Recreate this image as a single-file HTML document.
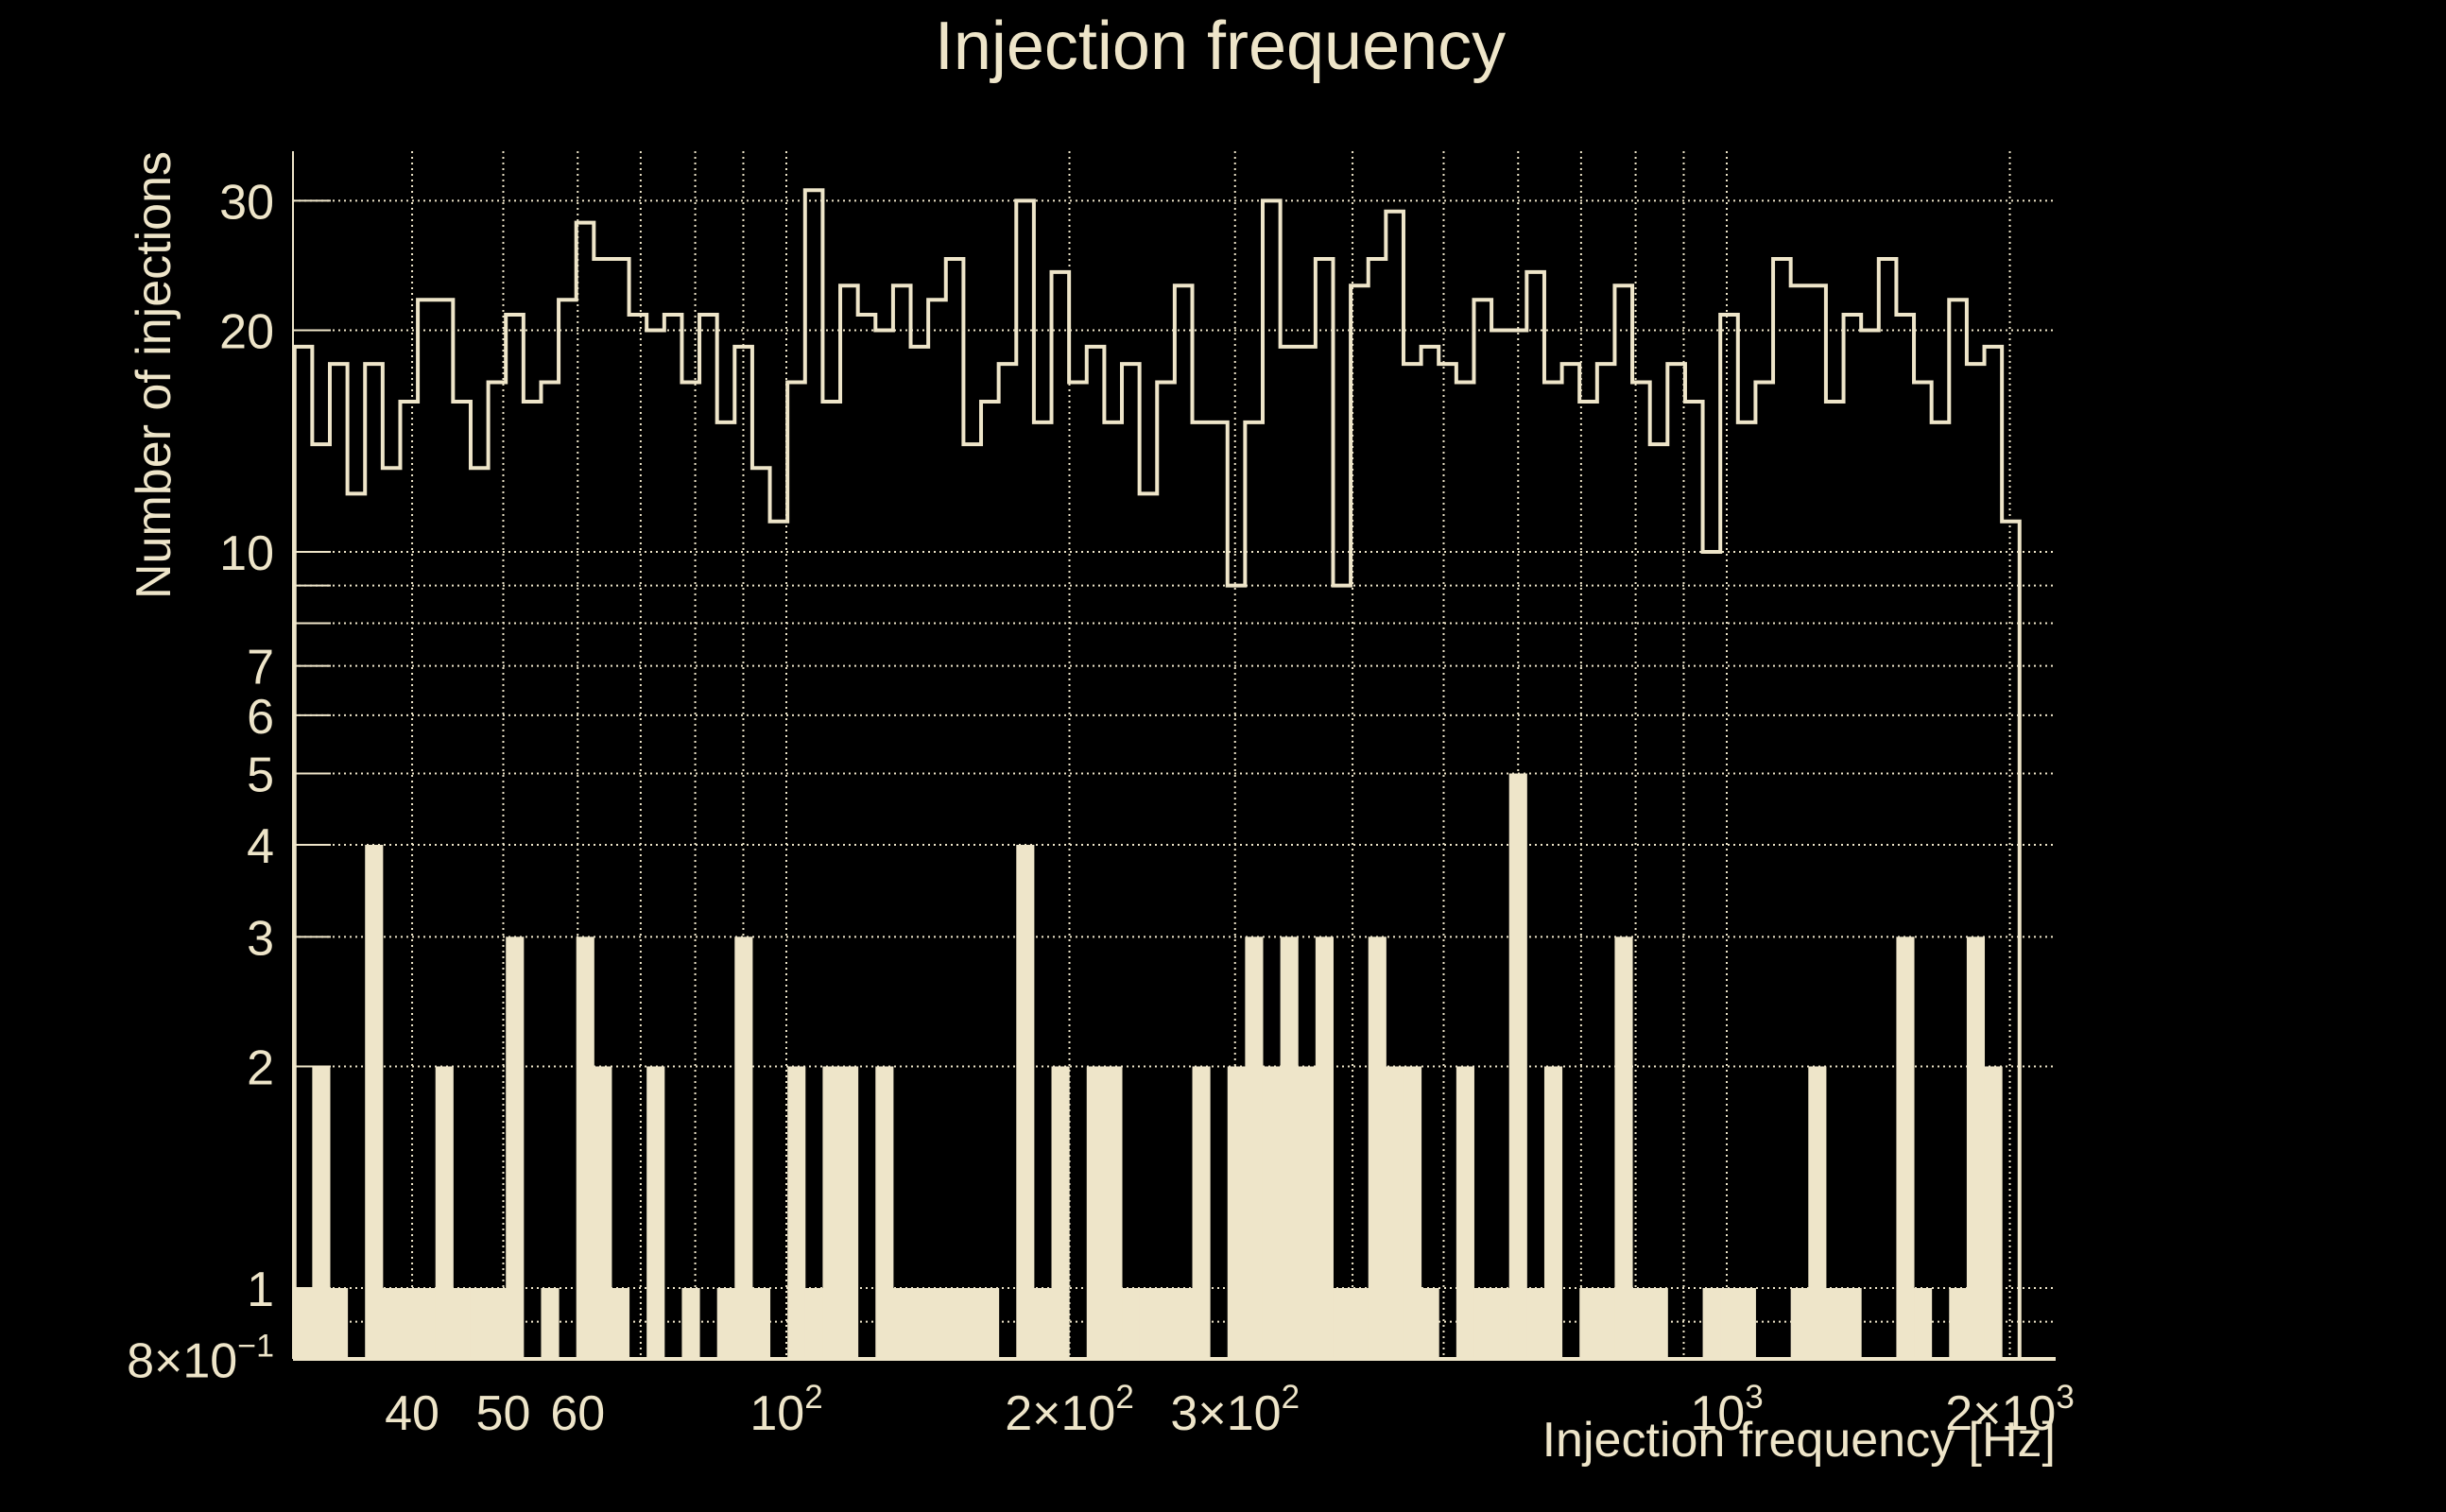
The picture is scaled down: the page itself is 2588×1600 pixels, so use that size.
<!DOCTYPE html>
<html><head><meta charset="utf-8"><title>Injection frequency</title>
<style>
html,body{margin:0;padding:0;background:#000;}
svg{display:block;}
text{font-family:"Liberation Sans",Arial,sans-serif;fill:#EEE5C9;}
</style></head>
<body>
<svg id="chart" width="2588" height="1600" viewBox="0 0 2588 1600" xmlns="http://www.w3.org/2000/svg">
<rect x="0" y="0" width="2588" height="1600" fill="#000"/>
<g id="grid"></g>
<g id="bars"></g>
<g id="line"></g>
<g id="axes"></g>
<text x="1291" y="73" font-size="72" text-anchor="middle">Injection frequency</text>
<text x="2175" y="1541" font-size="52" text-anchor="end">Injection frequency [Hz]</text>
<text transform="translate(180,160) rotate(-90)" font-size="52" text-anchor="end">Number of injections</text>
</svg>
<script>
// ---- data ----
const upperCounts = [19,14,18,12,18,13,16,22,22,16,13,17,21,16,17,22,28,25,25,21,
 20,21,17,21,15,19,13,11,17,31,16,23,21,20,23,19,22,25,14,16,18,
 30,15,24,17,19,15,18,12,17,23,15,15,9,15,30,19,19,25,9,23,25,
 29,18,19,18,17,22,20,20,24,17,18,16,18,23,17,14,18,16,10,
 21,15,17,25,23,23,16,21,20,25,21,17,15,22,18,19,11];
const lowerCounts = [1,2,1,0,4,1,1,1,2,1,1,1,3,0,1,0,3,2,1,0,
 2,0,1,0,1,3,1,0,2,1,2,2,0,2,1,1,1,1,1,1,0,
 4,1,2,0,2,2,1,1,1,1,2,0,2,3,2,3,2,3,1,1,3,
 2,2,1,0,2,1,1,5,1,2,0,1,1,3,1,1,0,0,1,
 1,1,0,0,1,2,1,1,0,0,3,1,0,1,3,2,0];
const freqRange = [30, 2048];
const yTickValues = [0.8,1,2,3,4,5,6,7,10,20,30];
const yTickMain = ["8\u00d710","1","2","3","4","5","6","7","10","20","30"];
const yTickSup = ["\u22121","","","","","","","","","",""];
const yGridValues = [0.9,1,2,3,4,5,6,7,8,9,10,20,30];
const xGridValues = [40,50,60,70,80,90,100,200,300,400,500,600,700,800,900,1000,2000];
const xTickValues = [40,50,60,100,200,300,1000,2000];
const xTickMain = ["40","50","60","10","2\u00d710","3\u00d710","10","2\u00d710"];
const xTickSup = ["","","","2","2","2","3","3"];

// ---- axes ----
const X0=310, X1=2172, Y0=160, YB=1438;
const C="#EEE5C9";
function xs(f){return 832+995*Math.log10(f/100);}
function ys(n){return 584-779*Math.log10(n/10);}
const NS="http://www.w3.org/2000/svg";
function mk(tag,attrs,parent){const e=document.createElementNS(NS,tag);for(const k in attrs)e.setAttribute(k,attrs[k]);parent.appendChild(e);return e;}
const grid=document.getElementById('grid'), axes=document.getElementById('axes');
const bars=document.getElementById('bars'), lineG=document.getElementById('line');

yGridValues.forEach(v=>{
  const l=mk('line',{x1:X0,x2:X1,y1:ys(v),y2:ys(v),stroke:C,'stroke-width':2,'stroke-dasharray':'2 4'},grid);
  
  
  const t=mk('line',{x1:X0,x2:X0+40,y1:ys(v),y2:ys(v),stroke:C,'stroke-width':2},axes);
  
  
});
xGridValues.forEach(v=>{
  const l=mk('line',{x1:xs(v),x2:xs(v),y1:Y0,y2:YB,stroke:C,'stroke-width':2,'stroke-dasharray':'2 4'},grid);
  
  
});

// ---- bins ----
const N=upperCounts.length;
function edge(i){return freqRange[0]*Math.pow(freqRange[1]/freqRange[0],i/N);}
lowerCounts.forEach((c,i)=>{
  if(c<=0)return;
  const xa=xs(edge(i)), xb=xs(edge(i+1));
  const r=mk('rect',{x:xa,y:ys(c),width:xb-xa+0.5,height:YB-ys(c),fill:C},bars);
  
  
});
let d='M'+xs(edge(0))+','+YB;
upperCounts.forEach((c,i)=>{
  d+=' L'+xs(edge(i))+','+ys(c)+' L'+xs(edge(i+1))+','+ys(c);
});
d+=' L'+xs(edge(N))+','+YB;
const p=mk('path',{d:d,fill:'none',stroke:C,'stroke-width':4,'stroke-linejoin':'miter'},lineG);



// axis lines
const ax=mk('line',{x1:X0,x2:X0,y1:Y0,y2:YB,stroke:C,'stroke-width':2},axes);


const bx=mk('line',{x1:X0,x2:X1+3,y1:YB,y2:YB,stroke:C,'stroke-width':4},axes);



// tick labels
yTickValues.forEach((v,i)=>{
  const t=mk('text',{x:290,y:ys(v)+19,'font-size':52,'text-anchor':'end'},axes);
  t.textContent=yTickMain[i];
  if(yTickSup[i]){
    const s=mk('tspan',{'font-size':34,dy:-22},t);
    s.textContent=yTickSup[i];
  }
  
  
});
xTickValues.forEach((v,i)=>{
  const t=mk('text',{x:xs(v),y:1513,'font-size':52,'text-anchor':'middle'},axes);
  t.textContent=xTickMain[i];
  if(xTickSup[i]){
    const s=mk('tspan',{'font-size':35,dy:-23},t);
    s.textContent=xTickSup[i];
  }
  
  
});
</script>
</body></html>
